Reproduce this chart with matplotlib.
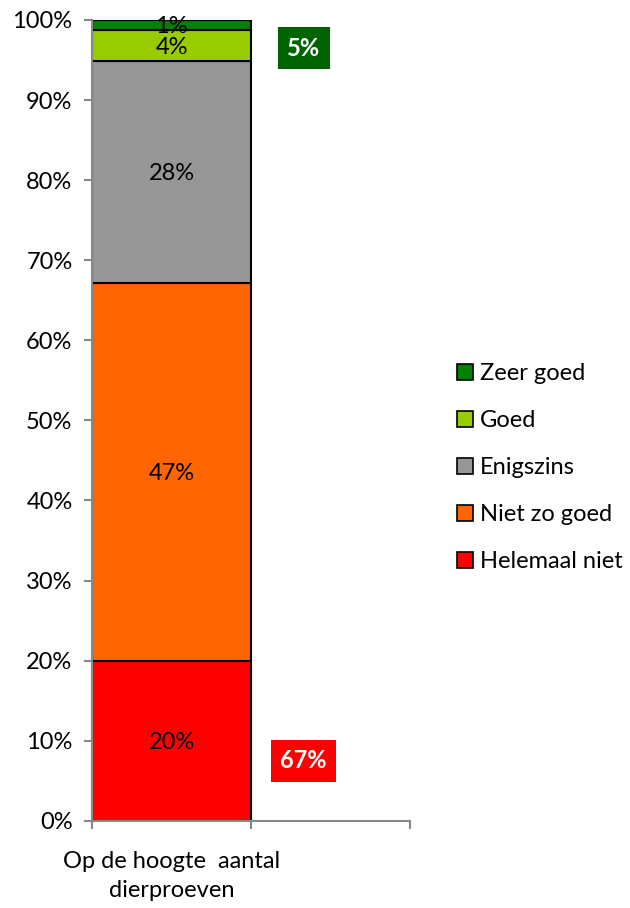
import matplotlib
matplotlib.use("Agg")
import matplotlib.pyplot as plt
from matplotlib.patches import Patch
from matplotlib.ticker import PercentFormatter

plt.rcParams['font.family'] = ['Lato', 'DejaVu Sans']

# data (percentages, bottom to top)
category = "Op de hoogte  aantal\ndierproeven"
series = ["Helemaal niet", "Niet zo goed", "Enigszins", "Goed", "Zeer goed"]
values = [20.0, 47.2, 27.7, 3.9, 1.2]
colors = ["#FF0000", "#FF6600", "#969696", "#99CC00", "#008000"]
summary_labels = ["5%", "67%"]
summary_colors = ["#006400", "#FF0000"]

fig = plt.figure(figsize=(6.3, 9.08), dpi=100)
ax = fig.add_axes([0.146, 0.096, 0.505, 0.882])

bottom = 0
for name, v, c in zip(series, values, colors):
    ax.bar(0.5, v, width=1.0, bottom=bottom, color=c, edgecolor="black",
           linewidth=1.5, label=name)
    ax.text(0.5, bottom + v / 2, f"{round(v)}%", ha="center", va="center_baseline",
            fontsize=17, color="black")
    bottom += v

ax.set_xlim(0, 2)
ax.set_ylim(0, 100)
ax.set_yticks(range(0, 101, 10))
ax.yaxis.set_major_formatter(PercentFormatter(decimals=0))
ax.set_xticks([0, 1, 2])
ax.set_xticklabels([])
ax.tick_params(axis="y", labelsize=17, color="#888888", length=6, width=1.5, pad=8)
ax.tick_params(axis="x", color="#888888", length=6, width=1.5)
ax.text(0.5, -0.038, category, transform=ax.get_xaxis_transform(),
        ha="center", va="top", fontsize=17, linespacing=1.45)

for s in ["top", "right"]:
    ax.spines[s].set_visible(False)
for s in ["left", "bottom"]:
    ax.spines[s].set_color("#888888")
    ax.spines[s].set_linewidth(1.5)

# summary boxes
ax.text(1.33, 96.5, summary_labels[0], ha="center", va="center", fontsize=17,
        fontweight="bold", color="white",
        bbox=dict(boxstyle="square,pad=0.4", fc=summary_colors[0], ec="none"))
ax.text(1.33, 7.5, summary_labels[1], ha="center", va="center", fontsize=17,
        fontweight="bold", color="white",
        bbox=dict(boxstyle="square,pad=0.4", fc=summary_colors[1], ec="none"))

handles = [Patch(facecolor=c, edgecolor="black", linewidth=1.2, label=n)
           for n, c in zip(series, colors)][::-1]
fig.legend(handles=handles, loc="center left", bbox_to_anchor=(0.71, 0.485),
           frameon=False, fontsize=17, handlelength=0.7, handleheight=0.7,
           handletextpad=0.3, labelspacing=1.1, borderaxespad=0)

fig.savefig("out.png", dpi=100)
